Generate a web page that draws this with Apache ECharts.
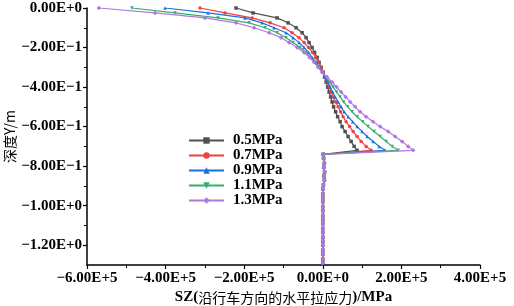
<!DOCTYPE html>
<html>
<head>
<meta charset="utf-8">
<script src="https://cdn.jsdelivr.net/npm/echarts@6/dist/echarts.min.js"></script>
<style>
  html, body { margin: 0; padding: 0; background: #fff; }
  #chart { width: 514px; height: 306px; }
</style>
</head>
<body>
<div id="chart"></div>
<script>
// 深度 (m)，上段曲线
const topDepths = [0, -0.025, -0.05, -0.075, -0.1, -0.125, -0.15, -0.175, -0.2, -0.225,
  -0.25, -0.275, -0.3, -0.325, -0.35, -0.375, -0.4, -0.425, -0.45, -0.475,
  -0.5, -0.525, -0.55, -0.575, -0.6, -0.625, -0.65, -0.675, -0.7, -0.72]
// 下段竖直部分
const bottomDepths = [-0.74, -0.76, -0.785, -0.805, -0.83, -0.85, -0.87, -0.895, -0.915, -0.94,
  -0.96, -0.98, -1.005, -1.025, -1.05, -1.07, -1.09, -1.115, -1.135, -1.16,
  -1.18, -1.2, -1.225, -1.245, -1.27, -1.29]
const bottomValues = [1000, 2000, 4000, 2500, 4500, 3000, 4000, 1500, 0, 0,
  0, 0, 0, 0, 0, 0, 0, 0, 0, 0,
  0, 0, 0, 0, 0, 0]

const seriesNames = ['0.5MPa', '0.7MPa', '0.9MPa', '1.1MPa', '1.3MPa']
const sz05 = [-220800, -177500, -116400, -88400, -68000, -52700, -42500, -34900, -27200, -20900,
  -14500, -9400, -4300, 800, 4600, 8400, 12200, 16000, 19900, 23700,
  27500, 32600, 37700, 44100, 49100, 56800, 64400, 72100, 79700, 87300]
const sz07 = [-312500, -248800, -180000, -134200, -98600, -78200, -60400, -47600, -36200, -26000,
  -18300, -10700, -4300, 800, 5900, 11000, 16000, 21100, 26200, 32600,
  39000, 45300, 51700, 59300, 68200, 77200, 87300, 97500, 110300, 123000]
const sz09 = [-401600, -292100, -197900, -154600, -124000, -93500, -75600, -60400, -47600, -36200,
  -27200, -17100, -8100, -500, 5900, 12200, 18600, 25000, 31300, 39000,
  46600, 54200, 64400, 75900, 87300, 100100, 112800, 128100, 143400, 158600]
const sz11 = [-485600, -376100, -266600, -187700, -146900, -116400, -93500, -75600, -57800, -43800,
  -32300, -19600, -10700, -1800, 8400, 17300, 26200, 35100, 44100, 53000,
  63200, 74600, 87300, 101400, 115400, 130600, 145900, 161200, 176500, 191800]
const sz13 = [-569700, -427000, -299700, -220800, -174900, -136700, -106200, -85800, -65400, -47600,
  -33600, -22200, -12000, -1800, 11000, 23700, 35100, 46600, 58100, 69500,
  82300, 95000, 110300, 128100, 145900, 166300, 184100, 201900, 217200, 230000]

const xTicks = [-600000, -400000, -200000, 0, 200000, 400000]
const xTickLabels = ['\u22126.00E+5', '\u22124.00E+5', '\u22122.00E+5', '0.00E+0', '2.00E+5', '4.00E+5']
const yTicks = [0, -0.2, -0.4, -0.6, -0.8, -1.0, -1.2]
const yTickLabels = ['0.00E+0', '\u22122.00E\u22121', '\u22124.00E\u22121', '\u22126.00E\u22121',
  '\u22128.00E\u22121', '\u22121.00E+0', '\u22121.20E+0']
const yMinorTicks = [-0.1, -0.3, -0.5, -0.7, -0.9, -1.1]

const colors = ['#515151', '#F14040', '#1A6FDF', '#37AD6B', '#B177DE']
const symbols = ['rect', 'circle', 'triangle', 'triangle', 'diamond']
const rotates = [0, 0, 0, 180, 0]

const serif = '"Liberation Serif", "Times New Roman", serif'

function lookup(ticks, labels, v) {
  for (let i = 0; i < ticks.length; i++) {
    if (Math.abs(ticks[i] - v) < 1e-6 * Math.max(1, Math.abs(v))) return labels[i]
  }
  return ''
}

const chart = echarts.init(document.getElementById('chart'))

const allValues = [sz05, sz07, sz09, sz11, sz13]
const series = allValues.map((vals, k) => ({
  name: seriesNames[k],
  type: 'line',
  data: topDepths.map((d, i) => [vals[i], d])
    .concat(bottomDepths.map((d, i) => [bottomValues[i], d])),
  symbol: symbols[k],
  symbolRotate: rotates[k],
  symbolSize: k === 4 ? 4.5 : 3.5,
  showSymbol: true,
  lineStyle: { color: colors[k], width: 1.2 },
  itemStyle: { color: colors[k] },
  z: 2 + k
}))

const axisLineStyle = { color: '#000', width: 1.5 }

const option = {
  animation: false,
  backgroundColor: '#fff',
  grid: { left: 87, right: 34, top: 8, bottom: 41, containLabel: false, outerBoundsMode: 'none' },
  legend: {
    data: seriesNames,
    orient: 'vertical',
    left: 183,
    top: 128,
    itemWidth: 35,
    itemHeight: 8,
    itemGap: 0,
    textStyle: {
      fontFamily: serif,
      fontWeight: 'bold',
      fontSize: 15,
      lineHeight: 13,
      color: '#000',
      padding: [0, 0, 0, 4]
    }
  },
  xAxis: {
    type: 'value',
    min: -600000,
    max: 400000,
    interval: 200000,
    name: '{a|SZ(}{b|沿行车方向的水平拉应力}{a|)/MPa}',
    nameLocation: 'middle',
    nameGap: 25,
    nameMoveOverlap: false,
    nameTextStyle: {
      rich: {
        a: { fontFamily: serif, fontWeight: 'bold', fontSize: 15, color: '#000' },
        b: { fontFamily: '"Noto Sans CJK SC", sans-serif', fontWeight: 'normal', fontSize: 14, color: '#000' }
      }
    },
    axisLine: { show: true, onZero: false, lineStyle: axisLineStyle },
    axisTick: { show: true, length: 4, lineStyle: { color: '#000', width: 1.2 } },
    minorTick: { show: true, splitNumber: 2, length: 3, lineStyle: { color: '#000', width: 1 } },
    splitLine: { show: false },
    axisLabel: {
      margin: 6,
      fontFamily: serif,
      fontWeight: 'bold',
      fontSize: 15,
      color: '#000',
      formatter: v => lookup(xTicks, xTickLabels, v)
    }
  },
  yAxis: [
    {
      type: 'value',
      min: -1.3,
      max: 0,
      name: '深度Y/m',
      nameLocation: 'middle',
      nameGap: 70,
      nameMoveOverlap: false,
      nameTextStyle: {
        fontFamily: '"Noto Sans CJK SC", sans-serif',
        fontSize: 14,
        color: '#000'
      },
      axisLine: { show: true, onZero: false, lineStyle: axisLineStyle },
      axisTick: { show: true, length: 4, customValues: yTicks, lineStyle: { color: '#000', width: 1.2 } },
      splitLine: { show: false },
      axisLabel: {
        margin: 5,
        customValues: yTicks,
        fontFamily: serif,
        fontWeight: 'bold',
        fontSize: 15,
        color: '#000',
        formatter: v => lookup(yTicks, yTickLabels, v)
      }
    },
    {
      type: 'value',
      min: -1.3,
      max: 0,
      position: 'left',
      axisLine: { show: false, onZero: false },
      axisTick: { show: true, length: 3, customValues: yMinorTicks, lineStyle: { color: '#000', width: 1 } },
      axisLabel: { show: false },
      splitLine: { show: false }
    }
  ],
  series: series
}

chart.setOption(option)
</script>
</body>
</html>
